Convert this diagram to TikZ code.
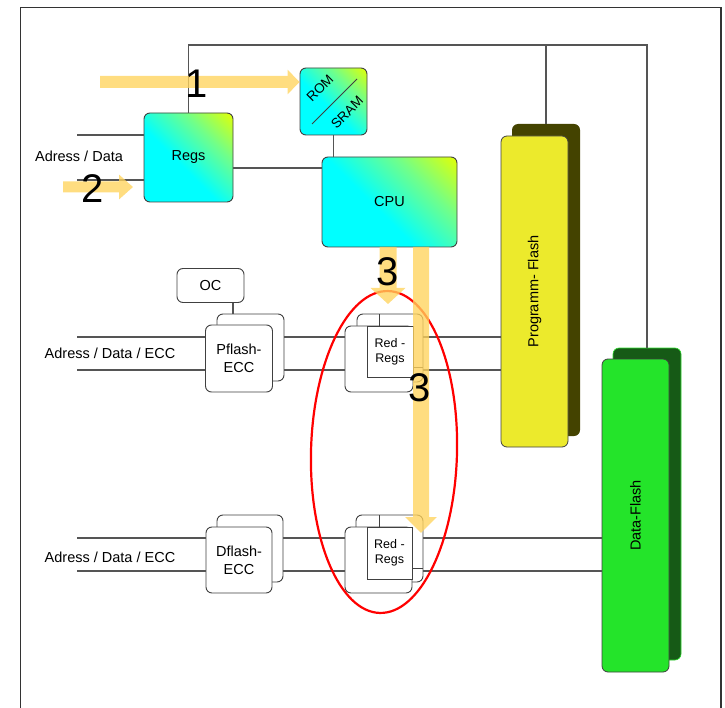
\documentclass[tikz,border=0pt]{standalone}
\usepackage{fontspec}
\setmainfont{Liberation Sans}
\usetikzlibrary{calc,arrows.meta}

\definecolor{linegray}{HTML}{555555}
\definecolor{edgegray}{HTML}{404040}
\definecolor{framegray}{HTML}{333333}
\definecolor{hlyellow}{HTML}{FFD35C}
\definecolor{gcyan}{HTML}{00FFFF}
\definecolor{ggreen}{HTML}{70FF8A}
\definecolor{gyellow}{HTML}{E6FF00}
\definecolor{pflashfill}{HTML}{ECEA2C}
\definecolor{pflashshadow}{HTML}{444300}
\definecolor{dflashfill}{HTML}{24E42A}
\definecolor{dflashshadow}{HTML}{165A16}
\definecolor{dflashrim}{HTML}{2EDC2E}

\pgfdeclarehorizontalshading{cpugrad}{100bp}{color(0bp)=(gcyan); color(44bp)=(gcyan); color(66bp)=(ggreen); color(86bp)=(gyellow); color(100bp)=(gyellow)}

\newcommand\fsz[2]{\fontsize{#1}{#2}\selectfont}

\tikzset{
  wire/.style={draw=linegray, line width=1.1pt},
  gradbox/.style={draw=edgegray, line width=0.9pt, rounded corners=6pt,
    shading=cpugrad, shading angle=45, inner sep=0pt, font=\fsz{14.5}{17}},
  whitebox/.style={draw=edgegray, line width=0.9pt, fill=white,
    rounded corners=6pt, inner sep=0pt, align=center, font=\fsz{14.5}{18}},
  innerbox/.style={draw=edgegray, line width=0.9pt, fill=white,
    inner sep=0pt, align=center, font=\fsz{12.5}{15}},
  flashshadow/.style={rounded corners=6pt, inner sep=0pt},
  flashfront/.style={draw=edgegray, line width=0.8pt, rounded corners=6pt, inner sep=0pt},
  lbl/.style={inner sep=0pt, font=\fsz{14.5}{17}},
  bignum/.style={inner sep=0pt, font=\fsz{40}{44}},
  hlarrow/.style={draw=hlyellow},
}

\begin{document}
\begin{tikzpicture}[x=1pt, y=-1pt]
\useasboundingbox (0,0) rectangle (725,708);

% outer frame
\draw[framegray, line width=1.4pt] (20.5,708) -- (20.5,7.5) -- (721,7.5) -- (721,708);

% flash arrays with their shadows
\node[flashshadow, fill=pflashshadow, minimum width=68pt, minimum height=312pt] (pshadow) at (546,280) {};
\node[flashfront, fill=pflashfill, minimum width=67pt, minimum height=311pt] (pflash) at (534.5,291.5) {};
\node[rotate=90, font=\fsz{14.5}{17}] at (pflash.center) {Programm- Flash};

\node[flashshadow, fill=dflashshadow, draw=dflashrim, line width=0.6pt, minimum width=68pt, minimum height=312pt] (dshadow) at (647,504) {};
\node[flashfront, fill=dflashfill, minimum width=67pt, minimum height=313pt] (dflash) at (635.5,515.5) {};
\node[rotate=90, font=\fsz{14.5}{17}] at (dflash.center) {Data-Flash};

% register / cpu blocks
\node[gradbox, minimum width=89pt, minimum height=89pt] (regs) at (188.5,157.5) {Regs};
\node[gradbox, minimum width=67pt, minimum height=67pt] (rom) at (333.5,101.5) {};
\draw[edgegray, line width=0.8pt] (rom.center) ++(-21.5,22.5) -- ++(45,-45);
\node[rotate=45, inner sep=0pt, font=\fsz{13.5}{16}] (romtxt) at ($(rom.center)+(-13.5,-13.5)$) {ROM};
\node[rotate=45, inner sep=0pt, font=\fsz{13.5}{16}] (sramtxt) at ($(rom.center)+(13.5,11)$) {SRAM};
\node[gradbox, minimum width=135pt, minimum height=90pt] (cpu) at (389.5,202) {CPU};

% bus lines
\coordinate (topbus) at (188,45);
\draw[wire] (regs.north) |- (dshadow.north |- topbus) -- (dshadow.north);
\draw[wire] (pshadow.north |- topbus) -- (pshadow.north);
\draw[wire] (rom.south) -- (rom.south |- cpu.north);
\coordinate (busR) at (0,168);
\draw[wire] (regs.east |- busR) -- (cpu.west |- busR);

\coordinate (inA) at (77,135);
\coordinate (inB) at (77,180);
\draw[wire] (inA) -- (inA -| regs.west);
\draw[wire] (inB) -- (inB -| regs.west);
\node[lbl] (lblA) at (79,156) {Adress / Data};

% program flash path
\node[whitebox, minimum width=67pt, minimum height=34pt] (oc) at (210.5,285.5) {OC};
\node[whitebox, minimum width=67pt, minimum height=67pt] (pfback) at (250.5,347.5) {};
\draw[wire] (oc.south -| 233,0) -- (pfback.north -| 233,0);
\node[whitebox, minimum width=67pt, minimum height=67pt] (pfecc) at (239,358.5) {Pflash-\\ECC};

\node[whitebox, minimum width=66pt, minimum height=68pt] (rrback) at (390,348) {};
\node[whitebox, minimum width=68pt, minimum height=66pt] (rrfront) at (379,359) {};
\node[innerbox, minimum width=46pt, minimum height=51pt] (rrtop) at (390,351.5) {Red -\\Regs};
\draw[edgegray, line width=0.9pt] (rrtop.north -| 379,0) -- (rrback.north -| 379,0);
\draw[edgegray, line width=0.9pt] (rrtop.east |- 0,367) -- (rrback.east |- 0,367);

\coordinate (inC) at (77,337);
\coordinate (inD) at (77,370);
\draw[wire] (inC) -- (inC -| pfecc.west);
\draw[wire] (inD) -- (inD -| pfecc.west);
\draw[wire] (pfback.east |- inC) -- (rrfront.west |- inC);
\draw[wire] (pfback.east |- inD) -- (rrfront.west |- inD);
\draw[wire] (rrback.east |- inC) -- (pflash.west |- inC);
\draw[wire] (rrback.east |- inD) -- (pflash.west |- inD);
\node[lbl] (lblC) at (110,353) {Adress / Data / ECC};

% data flash path
\node[whitebox, minimum width=66pt, minimum height=67pt] (dfback) at (250,548.5) {};
\node[whitebox, minimum width=66pt, minimum height=66pt] (dfecc) at (239,560) {Dflash-\\ECC};

\node[whitebox, minimum width=67pt, minimum height=67pt] (rdback) at (389.5,548.5) {};
\node[whitebox, minimum width=67pt, minimum height=66pt] (rdfront) at (378.5,560) {};
\node[innerbox, minimum width=45pt, minimum height=52pt] (rdtop) at (389.5,553) {Red -\\Regs};
\draw[edgegray, line width=0.9pt] (rdtop.north -| 379,0) -- (rdback.north -| 379,0);
\draw[edgegray, line width=0.9pt] (rdtop.east |- 0,568) -- (rdback.east |- 0,568);

\coordinate (inE) at (77,538);
\coordinate (inF) at (77,571);
\draw[wire] (inE) -- (inE -| dfecc.west);
\draw[wire] (inF) -- (inF -| dfecc.west);
\draw[wire] (dfback.east |- inE) -- (rdfront.west |- inE);
\draw[wire] (dfback.east |- inF) -- (rdfront.west |- inF);
\draw[wire] (rdback.east |- inE) -- (dflash.west |- inE);
\draw[wire] (rdback.east |- inF) -- (dflash.west |- inF);
\node[lbl] (lblE) at (110,557) {Adress / Data / ECC};

% highlight ellipse
\draw[red, line width=2.2pt, rotate around={-1.5:(384,452)}] (384,452) ellipse [x radius=73, y radius=161];

% numbered highlight arrows
\coordinate (a1s) at (100,82);
\coordinate (a2s) at (63,187);
\coordinate (a2e) at (133,187);
\coordinate (a3s) at (388,247);
\coordinate (a3e) at (388,304);
\coordinate (a4s) at (421,247);
\coordinate (a4e) at (421,533);
\begin{scope}[transparency group, opacity=0.78]
  \draw[hlarrow, line width=12pt, -{Triangle[width=24pt,length=12pt]}] (a1s) -- (rom.west |- a1s);
  \draw[hlarrow, line width=11pt, -{Triangle[width=24pt,length=14pt]}] (a2s) -- (a2e);
  \draw[hlarrow, line width=17pt, -{Triangle[width=34pt,length=16pt]}] (a3s) -- (a3e);
  \draw[hlarrow, line width=16pt, -{Triangle[width=31pt,length=16pt]}] (a4s) -- (a4e);
\end{scope}

\node[bignum] (n1) at (197,84) {1};
\node[bignum] (n2) at (93,189) {2};
\node[bignum] (n3a) at (388,272) {3};
\node[bignum] (n3b) at (420,388) {3};
\end{tikzpicture}
\end{document}
